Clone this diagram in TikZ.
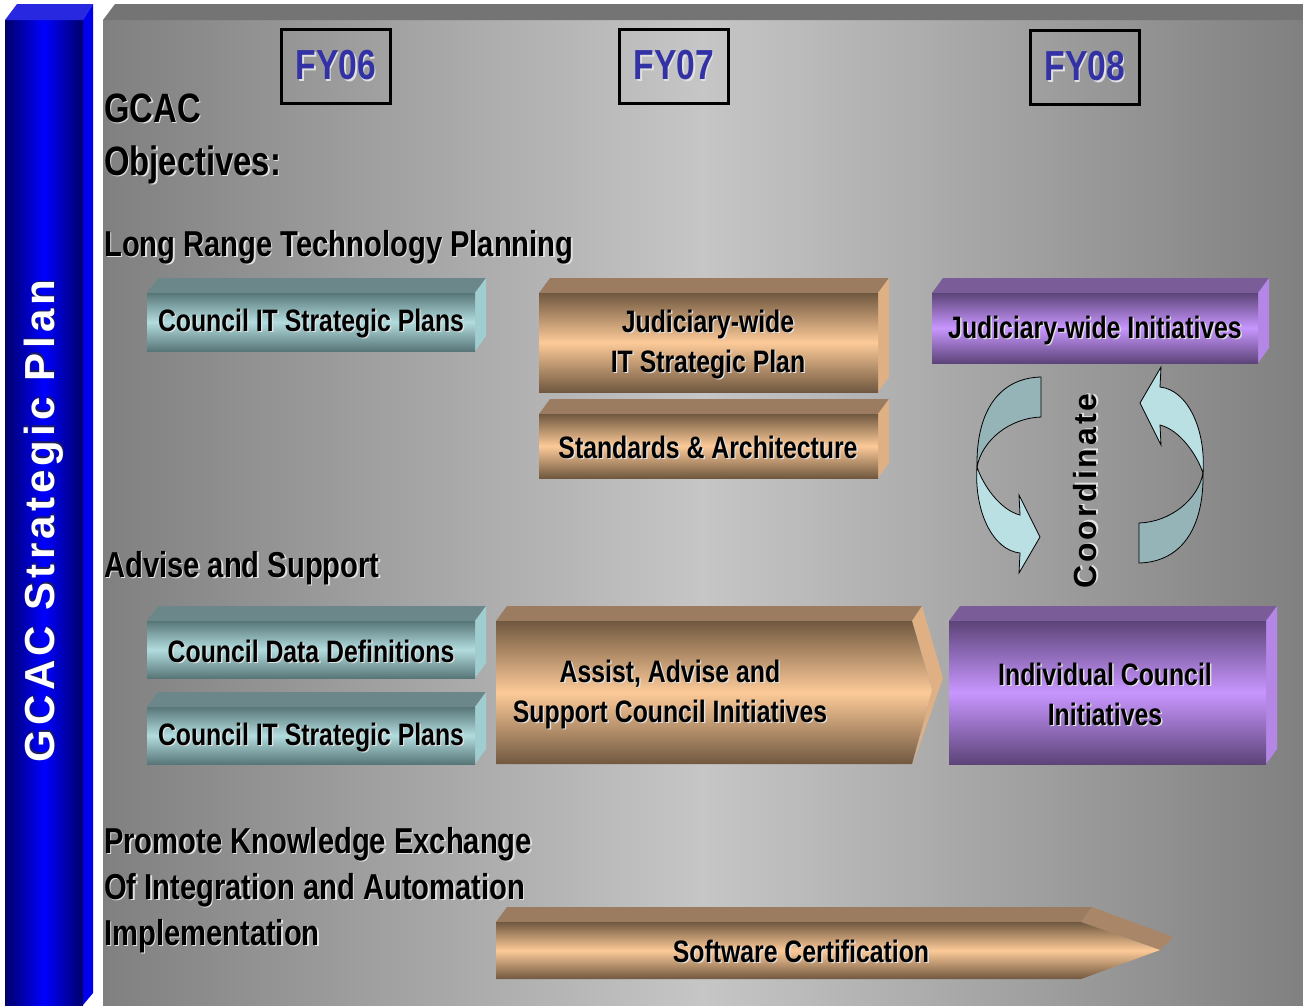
\documentclass[tikz,border=0pt]{standalone}
\usepackage{fontspec}
\setmainfont{Liberation Sans}
\newfontfamily\narrowfont[FakeStretch=0.8]{Liberation Sans}
\newfontfamily\headfont[FakeStretch=0.81]{Liberation Sans}
\newfontfamily\spacedfont[LetterSpace=9]{Liberation Sans}
\newfontfamily\barfont[LetterSpace=10]{Liberation Sans}
\usetikzlibrary{positioning,calc}

% colours
\definecolor{bluedark}{RGB}{0,0,105}
\definecolor{bluelight}{RGB}{0,0,255}
\definecolor{bluetop}{RGB}{40,40,225}
\definecolor{blueside}{RGB}{0,0,235}
\definecolor{grayedge}{RGB}{128,128,128}
\definecolor{graymid}{RGB}{198,198,198}
\definecolor{graytop}{RGB}{116,116,116}
\definecolor{tealtop}{RGB}{108,135,138}
\definecolor{tealdark}{RGB}{88,118,120}
\definecolor{teallight}{RGB}{178,220,222}
\definecolor{tealside}{RGB}{160,205,208}
\definecolor{tantop}{RGB}{156,124,96}
\definecolor{tandark}{RGB}{112,88,64}
\definecolor{tanlight}{RGB}{252,202,152}
\definecolor{tanside}{RGB}{222,176,132}
\definecolor{purpletop}{RGB}{122,92,152}
\definecolor{purpledark}{RGB}{92,68,120}
\definecolor{purplelight}{RGB}{200,150,255}
\definecolor{purpleside}{RGB}{180,134,230}
\definecolor{fyblue}{RGB}{50,50,165}
\definecolor{shadowc}{RGB}{225,225,225}
\definecolor{barshadow}{RGB}{30,30,90}
\definecolor{ribbondark}{RGB}{148,180,184}
\definecolor{ribbonlight}{RGB}{186,224,228}

% text with a soft drop shadow
\newcommand{\shd}[2][shadowc]{\leavevmode\rlap{\kern1.4pt\raisebox{-1.4pt}{\textcolor{#1}{#2}}}#2}

% 3D slab: front corners (x1,y1) (x2,y2), colour family
\newcommand{\slab}[5]{%
  \fill[#5top] (#1,#2) -- (#1+11,#2-15) -- (#3+11,#2-15) -- (#3,#2) -- cycle;
  \fill[#5side] (#3,#2) -- (#3+11,#2-15) -- (#3+11,#4-15) -- (#3,#4) -- cycle;
  \shade[top color=#5dark, bottom color=#5dark, middle color=#5light] (#1,#2) rectangle (#3,#4);
}

\begin{document}
\begin{tikzpicture}[x=1pt, y=-1pt]
  % styles
  \tikzstyle{heading}=[anchor=base west, inner sep=0pt, font=\headfont\bfseries\fontsize{36}{46}\selectfont]
  \tikzstyle{title}=[anchor=base west, inner sep=0pt, font=\narrowfont\bfseries\fontsize{41}{52}\selectfont]
  \tikzstyle{boxtext}=[align=center, inner sep=0pt, font=\narrowfont\bfseries\fontsize{31}{40}\selectfont]
  \tikzstyle{fybox}=[draw=black, line width=3pt, minimum width=109pt, minimum height=74pt, inner sep=0pt, text=fyblue, font=\narrowfont\bfseries\fontsize{42}{50}\selectfont]
  \tikzstyle{ribbon}=[draw=black, line width=0.8pt]

  \fill[white] (0,0) rectangle (1303,1005);
  \useasboundingbox (0,0) rectangle (1303,1005);

  % blue side bar
  \shade[left color=bluedark, right color=bluedark, middle color=bluelight] (5,20) rectangle (83,1005);
  \fill[bluetop] (5,20) -- (17,4) -- (93,4) -- (83,20) -- cycle;
  \fill[blueside] (83,20) -- (93,4) -- (93,993) -- (83,1005) -- cycle;
  \node[rotate=90, inner sep=0pt, text=white, font=\barfont\bfseries\fontsize{42}{50}\selectfont] (bar) at (44,521) {\shd[barshadow]{GCAC Strategic Plan}};

  % gray panel
  \shade[left color=grayedge, right color=grayedge, middle color=graymid] (103,20) rectangle (1303,1005);
  \fill[graytop] (103,20) -- (115,4) -- (1303,4) -- (1303,20) -- cycle;

  % fiscal years
  \node[fybox] (fy06) at (336,66) {\shd{FY06}};
  \node[fybox] (fy07) at (674,66) {\shd{FY07}};
  \node[fybox] (fy08) at (1085,67) {\shd{FY08}};

  % headings
  \node[title] (gcac) at (104,122) {\shd{GCAC}};
  \node[title] (obj) at (104,175) {\shd{Objectives:}};
  \node[heading] (lrtp) at (104,256) {\shd{Long Range Technology Planning}};
  \node[heading] (advise) at (104,577) {\shd{Advise and Support}};
  \node[heading] (pke1) at (104,853) {\shd{Promote Knowledge Exchange}};
  \node[heading] (pke2) at (104,899) {\shd{Of Integration and Automation}};
  \node[heading] (pke3) at (104,945) {\shd{Implementation}};

  % long range planning row
  \slab{147}{293}{475}{351}{teal}
  \node[boxtext] (cits1) at (311,324) {\shd{Council IT Strategic Plans}};
  \slab{539}{293}{878}{392}{tan}
  \node[boxtext] (jits) at (708,345) {\shd{Judiciary-wide}\\\shd{IT Strategic Plan}};
  \slab{539}{414}{878}{478}{tan}
  \node[boxtext] (stds) at (708,448) {\shd{Standards \& Architecture}};
  \slab{932}{293}{1258}{363}{purple}
  \node[boxtext] (jwi) at (1095,331) {\shd{Judiciary-wide Initiatives}};

  % advise and support row
  \slab{147}{621}{475}{678}{teal}
  \node[boxtext] (cdd) at (311,652) {\shd{Council Data Definitions}};
  \slab{147}{707}{475}{764}{teal}
  \node[boxtext] (cits2) at (311,738) {\shd{Council IT Strategic Plans}};
  \fill[tantop] (496,621) -- (507,606) -- (922,606) -- (912,621) -- cycle;
  \fill[tanside] (912,621) -- (922,606) -- (943,678) -- (913,764) -- (932,690) -- cycle;
  \shade[top color=tandark, bottom color=tandark, middle color=tanlight] (496,621) -- (912,621) -- (932,690) -- (912,764) -- (496,764) -- cycle;
  \node[boxtext] (assist) at (670,695) {\shd{Assist, Advise and}\\\shd{Support Council Initiatives}};
  \slab{949}{621}{1266}{764}{purple}
  \node[boxtext] (ici) at (1105,695) {\shd{Individual Council}\\\shd{Initiatives}};

  % coordinate ribbons
  \foreach \ang in {0,180} {
    \begin{scope}[rotate around={\ang:(1090,470)}]
      \filldraw[ribbon, fill=ribbondark] (1041,377) -- (1041,417) .. controls (1010,418) and (982,440) .. (977,467) .. controls (976,410) and (1000,378) .. (1041,377) -- cycle;
      \filldraw[ribbon, fill=ribbonlight] (977,467) .. controls (983,485) and (1000,510) .. (1020,515) -- (1019,495) -- (1040,537) -- (1019,573) -- (1020,553) .. controls (992,550) and (974,510) .. (977,467) -- cycle;
    \end{scope}
  }
  \node[rotate=90, inner sep=0pt, font=\spacedfont\bfseries\fontsize{32}{38}\selectfont] (coord) at (1086,491) {\shd{Coordinate}};

  % knowledge exchange row
  \fill[tantop] (496,922) -- (507,907) -- (1092,907) -- (1081,922) -- cycle;
  \fill[tantop!80!tanside] (1081,922) -- (1092,907) -- (1173,937) -- (1160,950) -- cycle;
  \shade[top color=tandark, bottom color=tandark, middle color=tanlight] (496,922) -- (1081,922) -- (1160,950) -- (1081,979) -- (496,979) -- cycle;
  \node[boxtext] (soft) at (801,952) {\shd{Software Certification}};
\end{tikzpicture}
\end{document}
